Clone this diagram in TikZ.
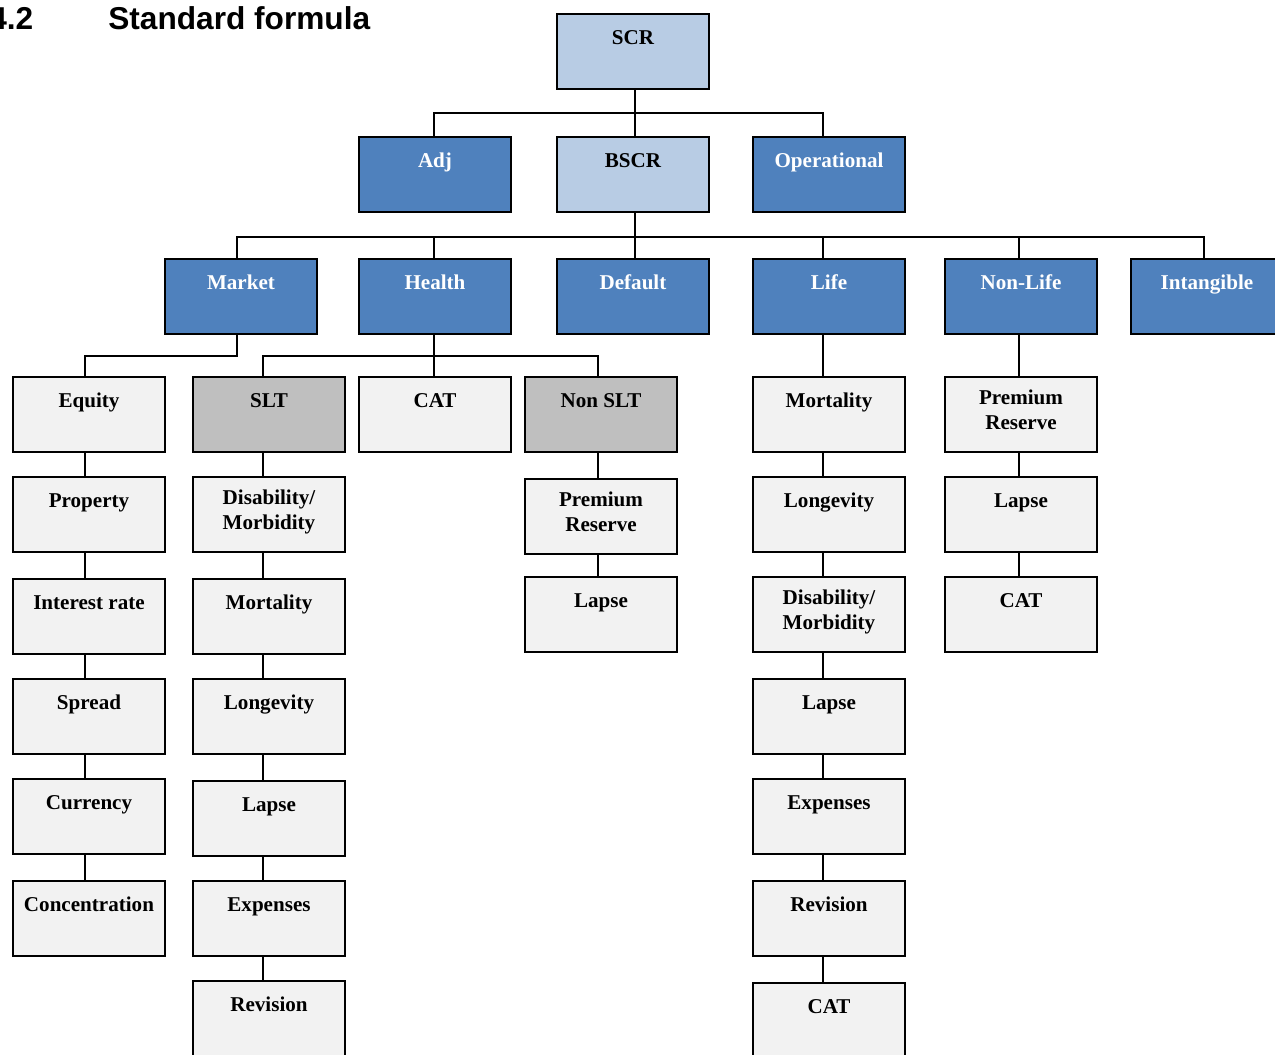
\documentclass[tikz,border=0pt]{standalone}
\usepackage{fontspec}
\setmainfont{Liberation Serif}
\newfontfamily\titlefont{Liberation Sans}
\usetikzlibrary{positioning}
\definecolor{scrblue}{HTML}{B8CCE4}
\definecolor{modblue}{HTML}{4F81BD}
\definecolor{subgray}{HTML}{F2F2F2}
\definecolor{grpgray}{HTML}{BFBFBF}
\tikzset{
    box/.style={draw=black, line width=1.1pt, minimum width=3.04cm, minimum height=1.50cm, inner sep=0},
    topbox/.style={box, fill=scrblue},
    modbox/.style={box, fill=modblue},
    subbox/.style={box, fill=subgray},
    grpbox/.style={box, fill=grpgray},
    boxtext/.style={font=\fontsize{12}{14.2}\selectfont\bfseries, align=center, inner sep=0, execute at begin node=\strut},
    titletext/.style={font=\titlefont\fontsize{18}{18}\selectfont\bfseries, anchor=base west, inner sep=0},
    link/.style={line width=1.1pt}
}
\newcommand{\riskBox}[5]{
    \node[#1] (#2) at (#3,#4) {};
    \node[boxtext, below=2.7mm of #2.north] (#2-t) {#5}
}
\newcommand{\modBox}[4]{
    \node[modbox] (#1) at (#2,#3) {};
    \node[boxtext, text=white, below=2.7mm of #1.north] (#1-t) {#4}
}

\begin{document}
\begin{tikzpicture}[x=0.02cm, y=-0.02cm]
    \clip (0,0) rectangle (1275,1055);
    \node[titletext] (secnum) at (-11,29) {4.2};
    \node[titletext] (sectitle) at (108,29) {Standard formula};

    % bus levels and spines
    \coordinate (busA) at (0,113);
    \coordinate (busB) at (0,237);
    \coordinate (busC) at (0,356);
    \coordinate (midX) at (635,0);
    \coordinate (adjX) at (434,0);
    \coordinate (opX) at (823,0);
    \coordinate (mktX) at (237,0);
    \coordinate (eqX) at (85,0);
    \coordinate (sltX) at (263,0);
    \coordinate (nsltX) at (598,0);
    \coordinate (nlX) at (1019,0);
    \coordinate (intX) at (1204,0);

    \riskBox{topbox}{scr}{633}{51.5}{SCR};
    \modBox{adj}{435}{174.5}{Adj};
    \riskBox{topbox}{bscr}{633}{174.5}{BSCR};
    \modBox{op}{829}{174.5}{Operational};

    \modBox{market}{241}{296.5}{Market};
    \modBox{health}{435}{296.5}{Health};
    \modBox{default}{633}{296.5}{Default};
    \modBox{life}{829}{296.5}{Life};
    \modBox{nonlife}{1021}{296.5}{Non-Life};
    \modBox{intang}{1207}{296.5}{Intangible};

    % market
    \riskBox{subbox}{equity}{89}{414.5}{Equity};
    \riskBox{subbox}{property}{89}{514.5}{Property};
    \riskBox{subbox}{interest}{89}{616.5}{Interest rate};
    \riskBox{subbox}{spread}{89}{716.5}{Spread};
    \riskBox{subbox}{currency}{89}{816.5}{Currency};
    \riskBox{subbox}{concentr}{89}{918.5}{Concentration};

    % health
    \riskBox{grpbox}{slt}{269}{414.5}{SLT};
    \riskBox{subbox}{sltdis}{269}{514.5}{Disability/\\Morbidity};
    \riskBox{subbox}{sltmort}{269}{616.5}{Mortality};
    \riskBox{subbox}{sltlong}{269}{716.5}{Longevity};
    \riskBox{subbox}{sltlapse}{269}{818.5}{Lapse};
    \riskBox{subbox}{sltexp}{269}{918.5}{Expenses};
    \riskBox{subbox}{sltrev}{269}{1018.5}{Revision};
    \riskBox{subbox}{hcat}{435}{414.5}{CAT};
    \riskBox{grpbox}{nslt}{601}{414.5}{Non SLT};
    \riskBox{subbox}{nsltprem}{601}{516.5}{Premium\\Reserve};
    \riskBox{subbox}{nsltlapse}{601}{614.5}{Lapse};

    % life
    \riskBox{subbox}{lmort}{829}{414.5}{Mortality};
    \riskBox{subbox}{llong}{829}{514.5}{Longevity};
    \riskBox{subbox}{ldis}{829}{614.5}{Disability/\\Morbidity};
    \riskBox{subbox}{llapse}{829}{716.5}{Lapse};
    \riskBox{subbox}{lexp}{829}{816.5}{Expenses};
    \riskBox{subbox}{lrev}{829}{918.5}{Revision};
    \riskBox{subbox}{lcat}{829}{1020.5}{CAT};

    % non-life
    \riskBox{subbox}{nlprem}{1021}{414.5}{Premium\\Reserve};
    \riskBox{subbox}{nllapse}{1021}{514.5}{Lapse};
    \riskBox{subbox}{nlcat}{1021}{614.5}{CAT};

    % connectors
    \draw[link] (scr.south -| midX) -- (bscr.north -| midX);
    \draw[link] (adj.north -| adjX) |- (opX |- busA) -- (op.north -| opX);
    \draw[link] (bscr.south -| midX) -- (default.north -| midX);
    \draw[link] (market.north -| mktX) |- (intX |- busB) -- (intang.north -| intX);
    \draw[link] (health.north -| adjX) -- (adjX |- busB);
    \draw[link] (life.north -| opX) -- (opX |- busB);
    \draw[link] (nonlife.north -| nlX) -- (nlX |- busB);
    \draw[link] (market.south -| mktX) |- (eqX |- busC) -- (equity.north -| eqX);
    \draw[link] (health.south -| adjX) -- (hcat.north -| adjX);
    \draw[link] (slt.north -| sltX) |- (nsltX |- busC) -- (nslt.north -| nsltX);
    \draw[link] (life.south -| opX) -- (lmort.north -| opX);
    \draw[link] (nonlife.south -| nlX) -- (nlprem.north -| nlX);
    \foreach \a/\b in {equity/property, property/interest, interest/spread, spread/currency, currency/concentr}
        \draw[link] (\a.south -| eqX) -- (\b.north -| eqX);
    \foreach \a/\b in {slt/sltdis, sltdis/sltmort, sltmort/sltlong, sltlong/sltlapse, sltlapse/sltexp, sltexp/sltrev}
        \draw[link] (\a.south -| sltX) -- (\b.north -| sltX);
    \foreach \a/\b in {nslt/nsltprem, nsltprem/nsltlapse}
        \draw[link] (\a.south -| nsltX) -- (\b.north -| nsltX);
    \foreach \a/\b in {lmort/llong, llong/ldis, ldis/llapse, llapse/lexp, lexp/lrev, lrev/lcat}
        \draw[link] (\a.south -| opX) -- (\b.north -| opX);
    \foreach \a/\b in {nlprem/nllapse, nllapse/nlcat}
        \draw[link] (\a.south -| nlX) -- (\b.north -| nlX);
\end{tikzpicture}
\end{document}
